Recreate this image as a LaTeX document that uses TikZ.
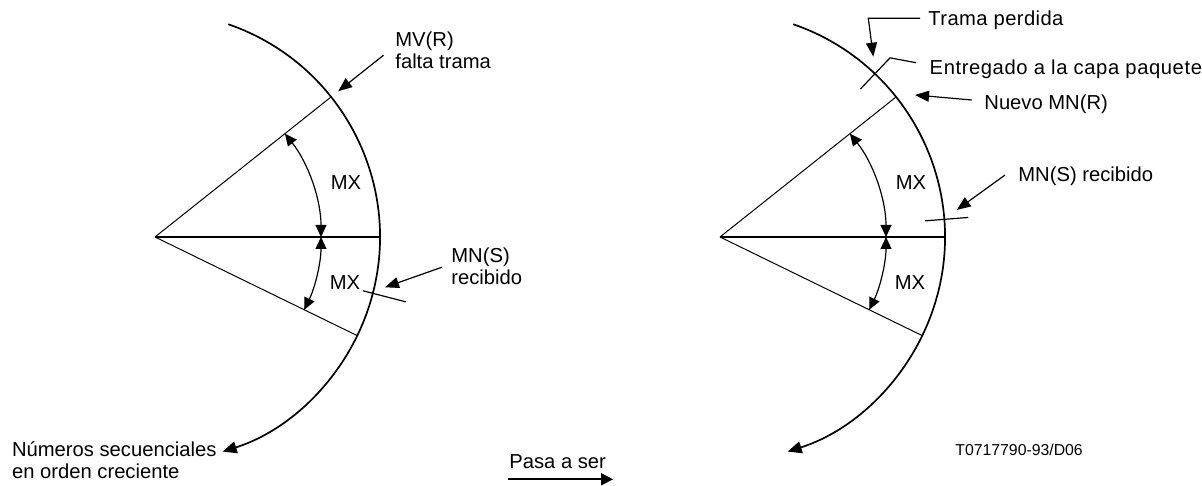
\documentclass[tikz,border=0pt]{standalone}
\usepackage{fontspec}
\setmainfont{Liberation Sans}
\usepackage{tikz}
\usetikzlibrary{arrows.meta}

\tikzset{
  ray/.style={line width=0.5pt},
  rim/.style={line width=0.85pt},
  midline/.style={line width=1.4pt},
  mxarc/.style={line width=0.6pt, {Triangle[length=6pt,width=5.5pt]}-{Triangle[length=6pt,width=5.5pt]}},
  leader/.style={line width=0.6pt, -{Triangle[length=7pt,width=5.5pt]}},
  tickmark/.style={line width=0.6pt},
  lbl/.style={inner sep=0pt, anchor=base west, align=left},
}

\begin{document}
\begin{tikzpicture}[x=0.5pt, y=0.5pt, font=\fontsize{10.1}{11}\selectfont]
    \useasboundingbox (0,0) rectangle (1202,486);

    % Window sectors (before / after)
    \foreach \i/\cx in {L/155, R/720}{
      \begin{scope}[shift={(\cx,249)}]
        \coordinate (O\i) at (0,0);
        \draw[rim, -{Triangle[length=7pt,width=6pt]}] (71:225) arc[start angle=71, end angle=-72.5, radius=225];
        \draw[midline] (O\i) -- (0:225);
        \draw[ray] (O\i) -- (38.5:225);
        \draw[ray] (O\i) -- (-26:225);
        \draw[mxarc] (0:166) arc[start angle=0, end angle=38.5, radius=166];
        \draw[mxarc] (0:166) arc[start angle=0, end angle=-26, radius=166];
        \node (mxup\i) at (191,54) {MX};
        \node (mxdown\i) at (190,-46) {MX};
      \end{scope}
    }

    % Left labels (base = last line)
    \begin{scope}[shift={(155,249)}]
      \node[lbl] (mvr) at (240,168.5) {MV(R)\\falta trama};
      \coordinate (mvr from) at (38.5:292);
      \coordinate (mvr to) at (38.5:234);
      \draw[leader] (mvr from) -- (mvr to);
      \node[lbl] (mnsL) at (296,-47.7) {MN(S)\\recibido};
      \coordinate (mnsL from) at (286.7,-30.3);
      \coordinate (mnsL to) at (230,-50.3);
      \draw[leader] (mnsL from) -- (mnsL to);
      \draw[tickmark] (-14.5:215) -- (-14.5:259);
      \node[lbl] (numseq) at (-143.3,-241.7) {Números secuenciales\\en orden creciente};
    \end{scope}

    % Right labels
    \begin{scope}[shift={(720,249)}]
      \node[lbl] (perdida) at (208,211) {\addfontfeatures{LetterSpace=2}Trama perdida};
      \coordinate (perdida a) at (200,218.7);
      \coordinate (perdida b) at (148.3,218.7);
      \coordinate (perdida c) at (153.3,180.3);
      \draw[leader] (perdida a) -- (perdida b) -- (perdida c);
      \node[lbl] (entregado) at (209.3,162) {\addfontfeatures{LetterSpace=2.9}Entregado a la capa paquete};
      \coordinate (entregado a) at (196,174.3);
      \coordinate (entregado b) at (46.5:247);
      \coordinate (entregado c) at (46.5:204);
      \draw[tickmark] (entregado a) -- (entregado b) -- (entregado c);
      \node[lbl] (nuevo) at (264,127) {Nuevo MN(R)};
      \coordinate (nuevo from) at (251.7,137);
      \coordinate (nuevo to) at (195,142);
      \draw[leader] (nuevo from) -- (nuevo to);
      \node[lbl] (mnsR) at (298,55.3) {MN(S) recibido};
      \coordinate (mnsR from) at (285,62);
      \coordinate (mnsR to) at (236.7,27);
      \draw[leader] (mnsR from) -- (mnsR to);
      \draw[tickmark] (4.5:205.6) -- (4.5:249);
    \end{scope}

    % Transition and reference
    \node[lbl] (pasa) at (509,18) {Pasa a ser};
    \coordinate (pasa from) at (508,6.7);
    \coordinate (pasa to) at (613,6.7);
    \draw[line width=0.9pt, -{Triangle[length=6pt,width=6pt]}] (pasa from) -- (pasa to);
    \node[lbl, font=\fontsize{7.9}{9}\selectfont] (figref) at (955,30.3) {T0717790-93/D06};
\end{tikzpicture}
\end{document}
